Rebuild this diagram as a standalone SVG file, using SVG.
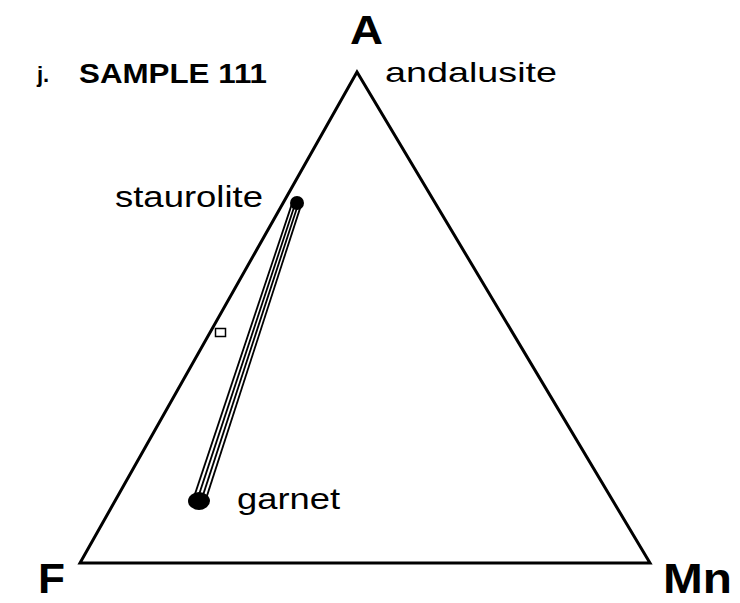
<svg xmlns="http://www.w3.org/2000/svg" width="740" height="603" viewBox="0 0 740 603">
<style>
.lbl{font-family:"Liberation Sans",Arial,sans-serif;fill:#000}
.b{font-weight:bold}
.ln{stroke:#000;fill:none}
.band{stroke:#000;fill:none;stroke-width:1.8}
</style>
<rect width="740" height="603" fill="#fff"/>
<g id="triangle">
<polygon points="357,72 80,563 650,563" class="ln" stroke-width="3" stroke-linejoin="miter"/>
</g>
<g id="connectors">
<line x1="292.7" y1="201.6" x2="193.3" y2="499.1" class="band"/>
<line x1="295.6" y1="202.5" x2="197.1" y2="500.4" class="band"/>
<line x1="298.4" y1="203.5" x2="200.9" y2="501.6" class="band"/>
<line x1="301.3" y1="204.4" x2="204.7" y2="502.9" class="band"/>
</g>
<g id="staurolite">
<circle cx="297" cy="203" r="7" fill="#000"/>
<text x="115" y="207" class="lbl" font-size="29" textLength="148" lengthAdjust="spacingAndGlyphs">staurolite</text>
</g>
<g id="garnet">
<ellipse cx="199" cy="501" rx="11" ry="9" fill="#000"/>
<text x="237" y="509" class="lbl" font-size="29" textLength="103" lengthAdjust="spacingAndGlyphs">garnet</text>
</g>
<g id="point">
<rect x="215.5" y="328.5" width="10" height="8" fill="#fff" stroke="#000" stroke-width="1.5"/>
</g>
<g id="A">
<text x="350" y="44" class="lbl b" font-size="41" textLength="33" lengthAdjust="spacingAndGlyphs">A</text>
<text x="385" y="82" class="lbl" font-size="28" textLength="172" lengthAdjust="spacingAndGlyphs">andalusite</text>
</g>
<g id="F"><text x="38" y="593" class="lbl b" font-size="43" textLength="27" lengthAdjust="spacingAndGlyphs">F</text></g>
<g id="Mn"><text x="663" y="593" class="lbl b" font-size="43" textLength="69" lengthAdjust="spacingAndGlyphs">Mn</text></g>
<g id="title">
<text x="37" y="82" class="lbl b" font-size="22">j.</text>
<text x="79" y="83" class="lbl b" font-size="28" textLength="188" lengthAdjust="spacingAndGlyphs">SAMPLE 111</text>
</g>
</svg>
